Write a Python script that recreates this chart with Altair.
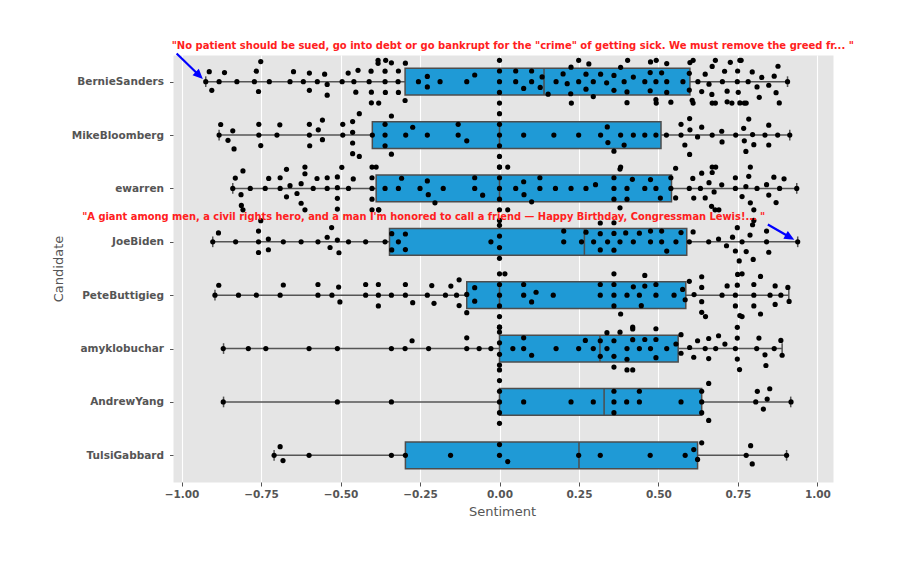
import json
import math
import numpy as np
import pandas as pd
import altair as alt

candidates = ["BernieSanders", "MikeBloomberg", "ewarren", "JoeBiden",
              "PeteButtigieg", "amyklobuchar", "AndrewYang", "TulsiGabbard"]

# box statistics
q1 = [-0.297, -0.400, -0.388, -0.346, -0.103, 0.0, 0.0, -0.296]
median = [0.140, 0.0, 0.0, 0.267, 0.0, 0.316, 0.329, 0.250]
q3 = [0.599, 0.508, 0.541, 0.589, 0.586, 0.562, 0.636, 0.623]
whisker_lo = [-0.924, -0.882, -0.839, -0.902, -0.895, -0.868, -0.868, -0.709]
whisker_hi = [0.906, 0.913, 0.935, 0.938, 0.910, 0.889, 0.916, 0.903]

# sentiment of each tweet (swarm points)
bernie = [-0.924, -0.913, -0.905, -0.882, -0.865, -0.826, -0.771, -0.765, -0.758, -0.751,
          -0.724, -0.659, -0.648, -0.617, -0.598, -0.598, -0.573, -0.550, -0.542, -0.542,
          -0.495, -0.476, -0.458, -0.452, -0.445, -0.410, -0.404, -0.403, -0.403, -0.382,
          -0.382, -0.380, -0.360, -0.360, -0.359, -0.358, -0.340, -0.319, -0.318, -0.318,
          -0.297, -0.296, -0.255, -0.227, -0.227, -0.187, -0.103, -0.078, 0, 0, 0, 0, 0,
          0.051, 0.051, 0.076, 0.101, 0.101, 0.128, 0.134, 0.153, 0.178, 0.200, 0.213,
          0.224, 0.225, 0.226, 0.249, 0.249, 0.272, 0.272, 0.281, 0.295, 0.295, 0.318,
          0.337, 0.360, 0.360, 0.381, 0.392, 0.401, 0.401, 0.403, 0.421, 0.457, 0.474,
          0.474, 0.475, 0.492, 0.492, 0.493, 0.493, 0.510, 0.526, 0.526, 0.526, 0.539,
          0.577, 0.597, 0.597, 0.599, 0.606, 0.609, 0.609, 0.624, 0.636, 0.647, 0.659,
          0.668, 0.669, 0.669, 0.679, 0.679, 0.701, 0.708, 0.716, 0.716, 0.726, 0.731,
          0.748, 0.749, 0.751, 0.756, 0.756, 0.760, 0.770, 0.776, 0.782, 0.795, 0.810,
          0.817, 0.825, 0.847, 0.864, 0.870, 0.876, 0.880, 0.906]
bloomberg = [-0.882, -0.877, -0.854, -0.839, -0.835, -0.757, -0.757, -0.751, -0.700, -0.691,
             -0.598, -0.598, -0.597, -0.570, -0.557, -0.557, -0.493, -0.493, -0.462, -0.462,
             -0.462, -0.462, -0.441, -0.441, -0.400, -0.360, -0.360, -0.360, -0.340, -0.340,
             -0.295, -0.273, -0.227, -0.130, -0.130, -0.103, 0, 0, 0, 0, 0, 0.076, 0.171,
             0.249, 0.318, 0.339, 0.341, 0.360, 0.381, 0.392, 0.421, 0.457, 0.492, 0.525,
             0.571, 0.571, 0.583, 0.598, 0.598, 0.599, 0.623, 0.636, 0.669, 0.699, 0.700,
             0.743, 0.768, 0.770, 0.775, 0.784, 0.796, 0.800, 0.835, 0.847, 0.847, 0.875,
             0.913]
ewarren = [-0.839, -0.831, -0.813, -0.812, -0.807, -0.807, -0.784, -0.737, -0.726, -0.690,
           -0.690, -0.670, -0.670, -0.659, -0.637, -0.624, -0.624, -0.612, -0.612, -0.612,
           -0.586, -0.574, -0.542, -0.542, -0.510, -0.510, -0.510, -0.510, -0.496, -0.475,
           -0.460, -0.401, -0.401, -0.401, -0.401, -0.401, -0.388, -0.380, -0.380, -0.360,
           -0.318, -0.308, -0.250, -0.227, -0.224, -0.203, -0.177, -0.078, -0.078, -0.053,
           0, 0, 0, 0, 0, 0, 0.026, 0.026, 0.051, 0.076, 0.077, 0.101, 0.127, 0.127,
           0.176, 0.225, 0.272, 0.302, 0.360, 0.360, 0.360, 0.379, 0.379, 0.381, 0.401,
           0.401, 0.418, 0.457, 0.475, 0.492, 0.506, 0.539, 0.539, 0.554, 0.554, 0.597,
           0.608, 0.611, 0.632, 0.636, 0.647, 0.659, 0.667, 0.669, 0.669, 0.675, 0.678,
           0.680, 0.690, 0.699, 0.742, 0.742, 0.763, 0.775, 0.784, 0.789, 0.789, 0.800,
           0.810, 0.840, 0.847, 0.863, 0.870, 0.881, 0.895, 0.935]
biden = [-0.902, -0.884, -0.830, -0.758, -0.758, -0.758, -0.751, -0.727, -0.727, -0.680,
         -0.624, -0.571, -0.542, -0.533, -0.528, -0.510, -0.505, -0.475, -0.421, -0.360,
         -0.339, -0.339, -0.318, -0.296, -0.296, -0.027, 0, 0, 0, 0, 0, 0.202, 0.202,
         0.258, 0.272, 0.296, 0.317, 0.317, 0.317, 0.340, 0.360, 0.360, 0.360, 0.379,
         0.397, 0.421, 0.440, 0.475, 0.475, 0.510, 0.510, 0.526, 0.555, 0.571, 0.597,
         0.609, 0.658, 0.689, 0.714, 0.733, 0.742, 0.748, 0.754, 0.763, 0.776, 0.788,
         0.796, 0.798, 0.800, 0.840, 0.840, 0.847, 0.938]
pete = [-0.895, -0.883, -0.821, -0.765, -0.690, -0.680, -0.571, -0.571, -0.527, -0.506,
        -0.502, -0.421, -0.421, -0.381, -0.381, -0.381, -0.340, -0.296, -0.296, -0.273,
        -0.227, -0.213, -0.206, -0.170, -0.153, -0.135, -0.127, -0.127, -0.103, -0.103,
        -0.078, -0.078, 0, 0, 0, 0, 0, 0.017, 0.076, 0.076, 0.101, 0.115, 0.169, 0.317,
        0.317, 0.360, 0.360, 0.360, 0.360, 0.381, 0.401, 0.421, 0.440, 0.446, 0.457,
        0.457, 0.492, 0.492, 0.549, 0.576, 0.584, 0.597, 0.612, 0.636, 0.636, 0.636,
        0.636, 0.648, 0.700, 0.716, 0.742, 0.742, 0.748, 0.749, 0.756, 0.763, 0.763,
        0.800, 0.800, 0.800, 0.821, 0.821, 0.851, 0.867, 0.867, 0.885, 0.907, 0.911]
amy = [-0.869, -0.790, -0.735, -0.599, -0.510, -0.340, -0.297, -0.275, -0.223, -0.103,
       -0.103, -0.064, -0.027, 0, 0, 0, 0, 0, 0, 0, 0.042, 0.076, 0.076, 0.101, 0.178,
       0.249, 0.270, 0.295, 0.317, 0.317, 0.338, 0.338, 0.360, 0.360, 0.360, 0.379,
       0.401, 0.401, 0.401, 0.419, 0.419, 0.419, 0.419, 0.440, 0.457, 0.475, 0.492,
       0.492, 0.492, 0.526, 0.555, 0.571, 0.571, 0.598, 0.611, 0.623, 0.647, 0.658,
       0.658, 0.680, 0.689, 0.709, 0.742, 0.748, 0.748, 0.748, 0.755, 0.809, 0.816,
       0.835, 0.838, 0.864, 0.885, 0.889]
yang = [-0.869, -0.510, -0.340, 0, 0, 0, 0, 0, 0.076, 0.225, 0.295, 0.360, 0.360, 0.360,
        0.400, 0.440, 0.440, 0.571, 0.636, 0.636, 0.636, 0.658, 0.658, 0.806, 0.811,
        0.830, 0.842, 0.850, 0.917]
tulsi = [-0.709, -0.690, -0.681, -0.599, -0.340, -0.296, -0.154, 0, 0, 0.026, 0.249,
         0.317, 0.474, 0.584, 0.611, 0.623, 0.636, 0.776, 0.790, 0.795, 0.903]

series = [bernie, bloomberg, ewarren, biden, pete, amy, yang, tulsi]

annot_text = [
    '"No patient should be sued, go into debt or go bankrupt for the "crime" of getting sick. We must remove the greed fr... "',
    '"A giant among men, a civil rights hero, and a man I\'m honored to call a friend \u2014 Happy Birthday, Congressman Lewis!... "',
]
annot_cand = ["BernieSanders", "JoeBiden"]
annot_value = [-0.924, 0.938]

# ---------------- layout helpers ----------------
W, H = 660, 427
XDOM = [-1.027, 1.049]
PX = W / (XDOM[1] - XDOM[0])          # pixels per sentiment unit
STEP = H / len(candidates)            # pixels per category
D = 10.2                              # marker collision diameter in pixels
GUTTER = 0.4 * STEP                   # half width of the swarm (seaborn width 0.8)


def swarm(vals, d):
    """seaborn-style beeswarm: sorted placement, tangent candidates, then gutters."""
    xs = np.asarray(vals, dtype=float) * PX
    order = np.argsort(xs, kind="stable")
    px_, py_ = [], []
    offs = np.zeros(len(xs))
    for i in order:
        x = xs[i]
        nb = [(a, b) for a, b in zip(px_, py_) if abs(a - x) < d]
        cands = [0.0]
        left_first = True
        for a, b in nb:
            h = math.sqrt(max(d * d - (a - x) ** 2, 0.0)) * 1.05
            pair = [b - h, b + h] if left_first else [b + h, b - h]
            cands.extend(pair)
            left_first = not left_first
        order_c = sorted(range(len(cands)), key=lambda k: abs(cands[k]))
        chosen = cands[order_c[-1]]
        for k in order_c:
            c = cands[k]
            if all((a - x) ** 2 + (b - c) ** 2 >= d * d - 1e-6 for a, b in nb):
                chosen = c
                break
        px_.append(x)
        py_.append(chosen)
        offs[i] = chosen
    return np.clip(offs, -GUTTER, GUTTER)


rows = []
for idx, vals in enumerate(series):
    offs = swarm(vals, D)
    for v, o in zip(vals, offs):
        rows.append({"cand": candidates[idx], "idx": idx, "value": v, "yv": idx + o / STEP})
pts = pd.DataFrame(rows)

box = pd.DataFrame({"cand": candidates, "idx": list(range(len(candidates))),
                    "q1": q1, "median": median, "q3": q3,
                    "wlo": whisker_lo, "whi": whisker_hi})

ann = pd.DataFrame({"text": annot_text, "cand": annot_cand, "value": annot_value})
ann["idx"] = [candidates.index(c) for c in annot_cand]

label_expr = json.dumps(candidates) + "[datum.value]"

xscale = alt.Scale(domain=XDOM, nice=False, zero=False)
yscale = alt.Scale(domain=[-0.5, len(candidates) - 0.5], reverse=True, nice=False, zero=False)

xaxis = alt.Axis(values=[-1, -0.75, -0.5, -0.25, 0, 0.25, 0.5, 0.75, 1], format=".2f",
                 grid=True, gridColor="white", gridWidth=1.1, domain=False,
                 tickSize=4, labelPadding=3, titleX=329, titleY=29, titleBaseline="middle")
yaxis = alt.Axis(values=list(range(len(candidates))), labelExpr=label_expr, grid=False,
                 domain=False, tickSize=3.5, labelPadding=6, titleX=-115, titleY=H / 2,
                 titleBaseline="middle", titleAngle=-90)


def X(field):
    return alt.X(field, type="quantitative", scale=xscale, axis=xaxis, title="Sentiment")


def Y(field):
    return alt.Y(field, type="quantitative", scale=yscale, axis=yaxis, title="Candidate")


base_box = alt.Chart(box).transform_calculate(
    ylo="datum.idx - 0.25", yhi="datum.idx + 0.25",
    clo="datum.idx - 0.1", chi="datum.idx + 0.1")

GRAY = "#555555"
whisk_lo = base_box.mark_rule(color=GRAY, strokeWidth=1.5).encode(
    x=X("wlo"), x2="q1", y=Y("idx"))
whisk_hi = base_box.mark_rule(color=GRAY, strokeWidth=1.5).encode(
    x=X("q3"), x2="whi", y=Y("idx"))
cap_lo = base_box.mark_rule(color=GRAY, strokeWidth=1.5).encode(
    x=X("wlo"), y=Y("clo"), y2="chi")
cap_hi = base_box.mark_rule(color=GRAY, strokeWidth=1.5).encode(
    x=X("whi"), y=Y("clo"), y2="chi")
boxes = base_box.mark_bar(color="#1f9ad6", stroke="#4d4d4d", strokeWidth=1.5).encode(
    x=X("q1"), x2="q3", y=Y("ylo"), y2="yhi")
med = base_box.mark_rule(color="#4d4d4d", strokeWidth=1.5).encode(
    x=X("median"), y=Y("ylo"), y2="yhi")

points = alt.Chart(pts).mark_circle(color="black", size=27, opacity=1).encode(
    x=X("value"), y=Y("yv"))

FONT = "DejaVu Sans"
RED = "#ff2020"
txt1 = alt.Chart(ann.iloc[[0]]).mark_text(
    font=FONT, fontWeight="bold", fontSize=10, color=RED, align="center",
    baseline="middle", dx=307, dy=-36).encode(x=X("value"), y=Y("idx"), text="text:N")
txt2 = alt.Chart(ann.iloc[[1]]).mark_text(
    font=FONT, fontWeight="bold", fontSize=9.9, color=RED, align="center",
    baseline="middle", dx=-374, dy=-25).encode(x=X("value"), y=Y("idx"), text="text:N")

arrow1_path = "M-0.81,-0.022L-0.28,-0.022L-0.28,-0.09L-0.08,0L-0.28,0.09L-0.28,0.022L-0.81,0.022Z"
arrow2_path = "M-0.69,-0.022L-0.28,-0.022L-0.28,-0.09L-0.08,0L-0.28,0.09L-0.28,0.022L-0.69,0.022Z"
arr1 = alt.Chart(ann.iloc[[0]]).mark_point(
    shape=arrow1_path, size=10000, angle=44, filled=True, color="blue",
    opacity=1, strokeWidth=0).encode(x=X("value"), y=Y("idx"))
arr2 = alt.Chart(ann.iloc[[1]]).mark_point(
    shape=arrow2_path, size=10000, angle=30, filled=True, color="blue",
    opacity=1, strokeWidth=0).encode(x=X("value"), y=Y("idx"))

chart = alt.layer(whisk_lo, whisk_hi, cap_lo, cap_hi, boxes, med, points,
                  txt1, txt2, arr1, arr2).properties(
    width=W, height=H,
    autosize=alt.AutoSizeParams(type="none"),
    padding={"left": 173, "top": 55, "right": 67, "bottom": 80},
    background="white",
).configure_view(fill="#e5e5e5", stroke="transparent").configure_axis(
    labelFont=FONT, labelFontWeight="bold", labelFontSize=10.5, labelColor=GRAY,
    tickColor=GRAY, titleFont=FONT, titleFontSize=13, titleFontWeight="normal",
    titleColor=GRAY)

chart.save("out.html", embed_options={"renderer": "svg", "actions": False})
